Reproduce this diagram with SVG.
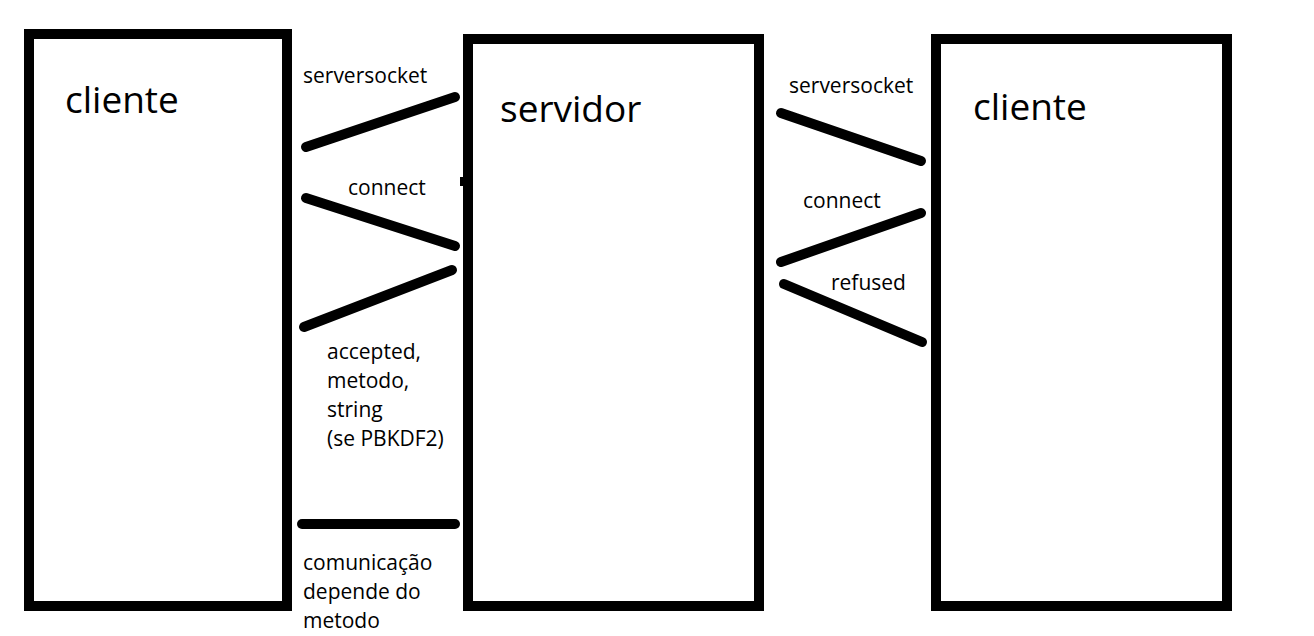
<svg xmlns="http://www.w3.org/2000/svg" width="1314" height="636" viewBox="0 0 1314 636">
<style>
.box{fill:none;stroke:#000;stroke-width:10}
.ln{stroke:#000;stroke-width:10;stroke-linecap:round;fill:none}
.big{font-family:"Open Sans","Noto Sans",sans-serif;font-size:37px;fill:#000}
.sm{font-family:"Open Sans","Noto Sans",sans-serif;font-size:21px;fill:#000}
</style>
<rect width="1314" height="636" fill="#fff"/>
<g id="cliente-left">
<rect class="box" x="29" y="34" width="258" height="572"/>
<text class="big" x="65" y="113">cliente</text>
</g>
<g id="servidor">
<rect class="box" x="468" y="39" width="291" height="567"/>
<text class="big" x="500" y="122">servidor</text>
</g>
<g id="cliente-right">
<rect class="box" x="936" y="39" width="291" height="567"/>
<text class="big" x="973" y="120">cliente</text>
</g>
<g id="connectors">
<line class="ln" x1="306" y1="147" x2="455" y2="97"/>
<line class="ln" x1="306" y1="198" x2="455" y2="246"/>
<line class="ln" x1="304" y1="327" x2="452" y2="270"/>
<line class="ln" x1="302" y1="524" x2="455" y2="524"/>
<line class="ln" x1="781" y1="113" x2="921" y2="161"/>
<line class="ln" x1="781" y1="262" x2="921" y2="213"/>
<line class="ln" x1="784" y1="284" x2="922" y2="342"/>
<rect x="460" y="177" width="3" height="9" fill="#000"/>
</g>
<g id="labels">
<text class="sm" x="303" y="83">serversocket</text>
<text class="sm" x="348" y="195">connect</text>
<text class="sm" x="327" y="359">accepted,</text>
<text class="sm" x="327" y="388">metodo,</text>
<text class="sm" x="327" y="417">string</text>
<text class="sm" x="327" y="446">(se PBKDF2)</text>
<text class="sm" x="303" y="570">comunicação</text>
<text class="sm" x="303" y="599">depende do</text>
<text class="sm" x="303" y="628">metodo</text>
<text class="sm" x="789" y="93">serversocket</text>
<text class="sm" x="803" y="208">connect</text>
<text class="sm" x="831" y="290">refused</text>
</g>
</svg>
